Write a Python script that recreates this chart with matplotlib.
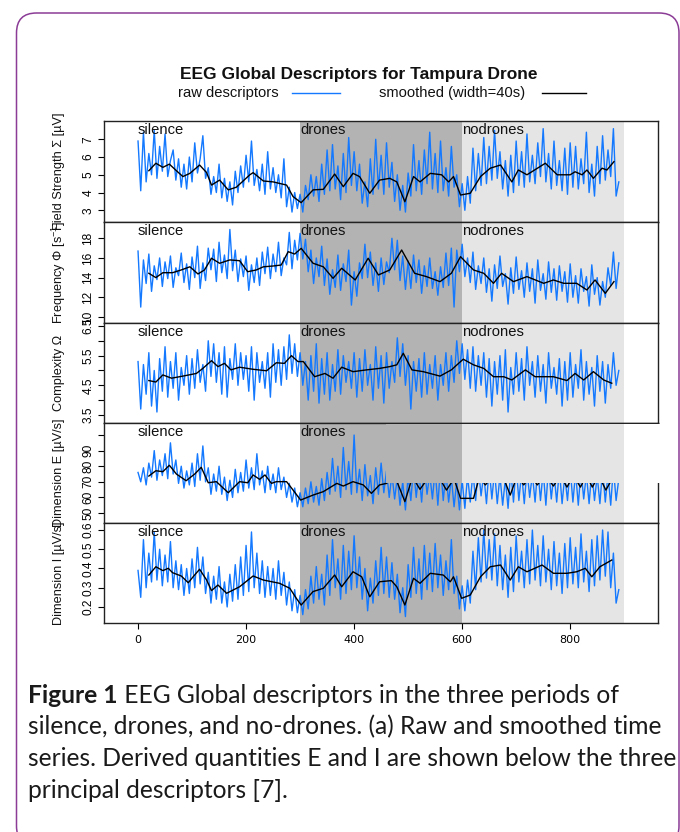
import matplotlib
matplotlib.use('Agg')
import matplotlib.pyplot as plt
from matplotlib.patches import FancyBboxPatch, Rectangle
from matplotlib.lines import Line2D
from matplotlib.transforms import blended_transform_factory, IdentityTransform
from matplotlib import font_manager

# ---------------- data ----------------
time_raw = list(range(0, 895, 5))

field_raw = [
    6.9, 4.1, 7.4, 4.6, 6.2, 5.0, 7.5, 4.8, 6.6, 5.2,
    7.3, 4.9, 5.8, 6.4, 4.7, 5.9, 4.3, 5.6, 4.2, 6.0,
    4.6, 6.8, 5.1, 5.9, 7.2, 4.8, 5.4, 3.9, 4.9, 4.0,
    5.6, 3.7, 4.8, 3.5, 4.6, 3.3, 5.2, 4.0, 5.5, 4.3,
    6.1, 4.6, 6.9, 4.4, 5.3, 4.1, 5.6, 3.9, 6.3, 4.2,
    5.4, 4.0, 5.0, 3.7, 5.9, 3.2, 4.3, 2.9, 4.0, 3.1,
    3.9, 2.9, 4.4, 3.6, 5.0, 3.8, 4.9, 3.5, 5.6, 3.9,
    6.4, 4.1, 6.7, 4.2, 5.5, 3.6, 6.2, 4.0, 7.1, 4.4,
    6.3, 4.1, 5.6, 3.4, 4.6, 3.2, 5.9, 3.9, 7.0, 4.2,
    6.1, 3.9, 6.8, 4.3, 5.7, 3.5, 5.0, 3.0, 4.4, 2.9,
    5.1, 3.8, 6.7, 4.1, 5.8, 3.9, 6.4, 4.5, 7.4, 4.2,
    6.2, 4.0, 6.9, 4.1, 5.4, 3.8, 6.6, 4.3, 5.0, 3.2,
    4.5, 3.0, 4.9, 3.4, 6.5, 4.1, 6.2, 4.4, 7.1, 4.5,
    6.6, 4.7, 7.5, 4.8, 6.3, 4.2, 5.8, 3.8, 6.1, 4.0,
    6.9, 4.4, 6.3, 4.3, 7.3, 4.6, 6.1, 4.5, 6.8, 4.9,
    7.6, 4.6, 6.2, 4.2, 6.9, 4.4, 5.8, 4.1, 6.5, 3.9,
    6.8, 4.3, 6.6, 4.2, 5.9, 4.5, 7.4, 4.0, 5.6, 3.8,
    6.6, 4.5, 7.2, 4.7, 6.4, 4.9, 7.6, 3.8, 4.6]

freq_raw = [
    16.7, 11.0, 15.8, 13.4, 16.4, 12.6, 15.2, 13.8, 16.0, 13.1,
    15.6, 13.9, 16.2, 13.0, 15.0, 14.2, 16.5, 13.5, 15.4, 12.8,
    16.1, 14.0, 17.2, 12.9, 15.5, 13.7, 17.0, 14.8, 16.9, 13.6,
    17.6, 14.5, 16.3, 13.9, 18.9, 14.7, 16.8, 13.6, 15.9, 14.1,
    16.2, 12.7, 15.3, 13.5, 16.0, 13.2, 16.6, 14.4, 17.1, 13.9,
    16.4, 14.6, 17.6, 14.2, 16.0, 15.3, 18.6, 14.9, 17.8, 15.8,
    18.5, 15.9, 17.9, 14.6, 16.8, 13.4, 16.0, 14.1, 17.2, 13.2,
    15.9, 12.3, 14.8, 13.0, 16.3, 12.7, 15.4, 13.6, 16.8, 11.2,
    14.6, 12.1, 15.5, 13.9, 17.4, 14.0, 16.6, 13.2, 15.5, 12.6,
    16.0, 13.3, 15.6, 14.5, 18.0, 14.8, 17.8, 13.7, 16.2, 12.8,
    15.7, 12.9, 16.3, 13.5, 15.8, 12.4, 15.2, 13.1, 16.0, 12.9,
    14.6, 12.2, 15.1, 13.0, 16.5, 13.2, 17.0, 11.0, 16.8, 14.6,
    17.4, 14.1, 16.0, 13.5, 16.6, 12.8, 15.2, 13.4, 16.0, 12.5,
    14.9, 11.6, 15.3, 12.9, 16.2, 13.1, 14.4, 11.3, 15.0, 12.4,
    16.1, 12.8, 14.7, 12.0, 15.5, 12.6, 14.9, 11.4, 15.8, 12.7,
    14.4, 11.8, 15.6, 12.5, 14.9, 11.7, 15.2, 12.6, 14.6, 11.5,
    15.4, 12.0, 14.2, 11.4, 14.9, 12.6, 14.1, 11.1, 15.3, 12.3,
    14.0, 11.2, 13.6, 12.0, 15.0, 13.2, 16.6, 12.9, 15.5]

complexity_raw = [
    5.3, 3.7, 5.2, 4.2, 5.6, 3.8, 5.0, 3.6, 5.4, 4.3,
    5.8, 4.1, 5.3, 4.4, 5.6, 4.0, 5.1, 4.5, 5.5, 4.2,
    5.4, 4.4, 5.7, 4.6, 5.2, 4.3, 6.0, 4.8, 5.9, 4.6,
    5.6, 4.2, 5.8, 4.1, 5.4, 4.7, 5.9, 4.5, 5.6, 4.7,
    5.5, 4.3, 5.8, 4.0, 5.6, 4.6, 5.3, 4.4, 5.6, 4.1,
    5.9, 4.6, 5.7, 4.5, 5.8, 4.7, 6.2, 4.9, 5.9, 4.8,
    5.6, 4.5, 5.3, 4.0, 5.5, 4.3, 5.9, 3.9, 5.4, 4.2,
    5.6, 4.0, 5.2, 4.3, 5.7, 4.2, 5.5, 4.6, 5.3, 4.4,
    5.6, 4.1, 5.4, 4.3, 5.7, 4.5, 5.2, 4.0, 5.8, 4.4,
    5.5, 3.9, 5.6, 4.4, 5.3, 4.6, 6.1, 4.8, 5.9, 4.5,
    5.5, 3.7, 5.3, 4.3, 5.4, 4.1, 5.6, 4.2, 5.2, 4.4,
    5.5, 4.0, 5.2, 4.5, 5.6, 4.3, 5.5, 4.6, 6.0, 4.9,
    5.9, 4.7, 5.7, 4.4, 5.8, 4.3, 5.5, 4.5, 5.6, 4.1,
    5.4, 3.8, 5.3, 4.2, 5.5, 4.0, 5.7, 3.6, 5.1, 4.2,
    5.6, 4.3, 5.4, 4.0, 5.8, 4.5, 5.3, 4.1, 5.5, 4.3,
    5.2, 3.9, 5.6, 4.4, 5.1, 4.2, 5.4, 3.8, 5.3, 4.0,
    5.6, 4.1, 5.2, 4.4, 5.7, 4.0, 5.3, 4.2, 5.1, 3.8,
    5.5, 4.3, 5.3, 3.9, 5.2, 4.4, 5.6, 4.5, 5.0]

dimE_raw = [
    76, 70, 79, 68, 82, 73, 90, 71, 84, 74,
    88, 72, 95, 75, 84, 69, 80, 66, 77, 68,
    82, 67, 88, 71, 93, 70, 79, 62, 75, 64,
    80, 62, 73, 58, 71, 60, 78, 63, 76, 64,
    84, 66, 79, 65, 88, 68, 77, 63, 80, 65,
    75, 63, 79, 65, 73, 60, 69, 57, 66, 54,
    63, 54, 66, 56, 70, 57, 67, 55, 72, 58,
    76, 62, 85, 64, 80, 60, 92, 65, 83, 62,
    100, 63, 78, 58, 81, 61, 74, 56, 79, 62,
    82, 63, 77, 60, 75, 59, 73, 55, 70, 52,
    74, 58, 79, 60, 76, 57, 81, 62, 75, 59,
    78, 55, 80, 58, 76, 57, 73, 54, 70, 52,
    71, 53, 74, 57, 76, 58, 80, 61, 75, 56,
    79, 59, 77, 56, 74, 55, 72, 53, 78, 57,
    80, 58, 76, 56, 78, 60, 75, 57, 79, 58,
    77, 55, 80, 59, 76, 57, 78, 56, 74, 58,
    79, 57, 76, 55, 78, 59, 75, 56, 77, 58,
    74, 56, 78, 57, 75, 55, 79, 58, 72]

dimI_raw = [
    0.39, 0.25, 0.55, 0.30, 0.48, 0.33, 0.59, 0.34, 0.50, 0.31,
    0.47, 0.33, 0.54, 0.30, 0.44, 0.29, 0.42, 0.26, 0.40, 0.27,
    0.45, 0.30, 0.51, 0.32, 0.46, 0.27, 0.38, 0.22, 0.36, 0.24,
    0.41, 0.22, 0.33, 0.20, 0.37, 0.23, 0.42, 0.24, 0.46, 0.26,
    0.52, 0.28, 0.59, 0.30, 0.48, 0.27, 0.44, 0.25, 0.41, 0.26,
    0.40, 0.24, 0.44, 0.26, 0.38, 0.21, 0.33, 0.18, 0.29, 0.17,
    0.26, 0.16, 0.29, 0.19, 0.36, 0.22, 0.41, 0.24, 0.37, 0.21,
    0.47, 0.26, 0.55, 0.30, 0.45, 0.24, 0.52, 0.27, 0.49, 0.29,
    0.57, 0.30, 0.46, 0.24, 0.40, 0.18, 0.35, 0.22, 0.44, 0.26,
    0.51, 0.27, 0.46, 0.25, 0.43, 0.24, 0.37, 0.17, 0.30, 0.15,
    0.42, 0.25, 0.51, 0.27, 0.45, 0.24, 0.52, 0.29, 0.48, 0.28,
    0.53, 0.30, 0.47, 0.26, 0.44, 0.29, 0.55, 0.27, 0.36, 0.19,
    0.31, 0.18, 0.34, 0.22, 0.49, 0.29, 0.56, 0.33, 0.60, 0.35,
    0.55, 0.34, 0.58, 0.31, 0.52, 0.29, 0.47, 0.25, 0.51, 0.28,
    0.57, 0.33, 0.49, 0.30, 0.55, 0.32, 0.60, 0.34, 0.52, 0.31,
    0.57, 0.33, 0.50, 0.29, 0.54, 0.31, 0.48, 0.27, 0.53, 0.30,
    0.56, 0.32, 0.51, 0.30, 0.58, 0.33, 0.49, 0.28, 0.55, 0.31,
    0.57, 0.34, 0.60, 0.36, 0.59, 0.30, 0.48, 0.22, 0.29]

field_smooth_t = [20, 33, 46, 58, 71, 83, 96, 114, 127, 136, 151, 167, 182, 207, 213, 232, 250,
                  275, 287, 302, 324, 343, 364, 380, 398, 410, 429, 447, 466, 479, 494, 510, 522,
                  541, 562, 575, 584, 597, 615, 634, 652, 671, 692, 704, 720, 754, 776, 800, 809,
                  822, 831, 843, 859, 868, 881]
field_smooth = [5.23, 5.65, 5.42, 5.6, 5.23, 4.9, 5.08, 5.55, 5.12, 4.42, 4.7, 4.15, 4.3, 5.0, 5.12,
                4.65, 4.6, 4.42, 3.77, 3.43, 4.15, 4.18, 5.04, 4.33, 5.08, 4.9, 3.96, 4.7, 4.8, 4.6,
                3.48, 4.9, 4.6, 5.08, 5.0, 4.6, 4.9, 3.86, 3.96, 4.9, 5.37, 5.55, 4.6, 5.27, 5.0,
                5.65, 5.0, 5.0, 5.17, 5.0, 5.27, 4.8, 5.37, 5.27, 5.74]

freq_smooth_t = [20, 33, 46, 64, 80, 96, 111, 123, 136, 151, 170, 188, 203, 219, 232, 250, 265,
                 278, 290, 302, 324, 343, 361, 377, 402, 426, 445, 466, 488, 512, 534, 559, 580,
                 597, 621, 640, 658, 673, 695, 720, 751, 769, 788, 812, 831, 846, 865, 881]
freq_smooth = [14.44, 14.0, 14.5, 14.5, 14.78, 15.1, 14.37, 14.78, 15.97, 15.46, 15.8, 15.72, 14.6,
               14.78, 15.1, 15.18, 15.28, 16.64, 16.4, 16.98, 15.46, 15.1, 13.93, 14.95, 13.76,
               15.97, 14.27, 14.78, 16.81, 14.44, 14.1, 13.59, 14.44, 16.13, 14.78, 14.44, 13.42,
               14.44, 13.59, 14.1, 13.42, 13.76, 13.42, 13.42, 12.74, 13.76, 12.4, 13.59]

complexity_smooth_t = [20, 33, 46, 62, 83, 108, 120, 136, 148, 160, 172, 188, 213, 238, 256, 271,
                       284, 296, 306, 327, 346, 361, 377, 398, 423, 447, 466, 479, 491, 507, 528,
                       559, 580, 602, 621, 640, 658, 677, 692, 717, 735, 769, 794, 809, 825, 843,
                       862, 877]
complexity_smooth = [4.66, 4.61, 4.85, 4.74, 4.81, 4.9, 5.07, 5.33, 5.13, 5.24, 5.02, 5.11, 5.04,
                     4.99, 5.26, 5.24, 5.5, 5.3, 5.3, 4.79, 4.9, 4.74, 5.11, 4.96, 5.02, 5.07, 5.13,
                     5.19, 5.58, 5.02, 4.96, 4.81, 5.02, 5.38, 5.19, 5.07, 4.79, 4.79, 4.68, 5.02,
                     4.79, 4.79, 4.66, 4.9, 4.68, 4.96, 4.68, 4.57]

dimE_smooth_t = [20, 33, 46, 58, 71, 89, 105, 117, 130, 145, 167, 188, 203, 213, 225, 235, 247,
                 256, 275, 287, 301, 324, 343, 368, 380, 398, 417, 432, 447, 460, 475, 494, 508,
                 522, 540, 557, 571, 585, 597, 621, 632, 643, 660, 675, 689, 702, 714, 727, 739,
                 754, 769, 782, 794, 806, 819, 830, 841, 853, 866, 878]
dimE_smooth = [73.7, 77.1, 76.5, 80.6, 75.0, 70.7, 75.0, 79.3, 69.4, 70.1, 63.0, 70.1, 69.4, 74.4,
               71.6, 74.4, 69.0, 70.1, 70.1, 64.7, 58.3, 61.5, 63.7, 69.0, 67.3, 70.1, 68.0, 62.6,
               68.0, 69.0, 74.0, 57.3, 73.0, 65.2, 74.0, 73.0, 64.7, 72.0, 59.4, 59.4, 73.0, 68.0,
               75.0, 74.0, 61.5, 74.0, 68.0, 74.0, 68.0, 74.0, 67.3, 74.0, 66.6, 74.0, 66.6, 74.0,
               66.6, 74.0, 64.7, 72.0]

dimI_smooth_t = [20, 33, 46, 56, 64, 80, 93, 102, 114, 127, 136, 148, 164, 188, 213, 232, 262,
                 281, 293, 302, 324, 343, 364, 377, 398, 414, 429, 447, 469, 479, 494, 510, 522,
                 541, 565, 578, 584, 599, 615, 634, 652, 671, 689, 704, 720, 748, 769, 794, 812,
                 828, 840, 855, 877]
dimI_smooth = [0.366, 0.409, 0.389, 0.401, 0.378, 0.361, 0.326, 0.357, 0.396, 0.340, 0.285, 0.314,
               0.271, 0.305, 0.361, 0.340, 0.323, 0.297, 0.245, 0.210, 0.280, 0.297, 0.366, 0.305,
               0.383, 0.357, 0.253, 0.331, 0.337, 0.305, 0.210, 0.349, 0.323, 0.375, 0.366, 0.331,
               0.357, 0.245, 0.262, 0.357, 0.409, 0.418, 0.340, 0.409, 0.383, 0.418, 0.375, 0.375,
               0.383, 0.401, 0.357, 0.409, 0.444]

period_names = ['silence', 'drones', 'nodrones']
period_starts = [0, 300, 600]
period_end = 900

y_labels = ['Field Strength \u03a3 [\u00b5V]', 'Frequency \u03a6 [s$^{-1}$]', 'Complexity \u03a9',
            'Dimension E [\u00b5V/s]', 'Dimension I [\u00b5V/s]']
y_ticks = [[3, 4, 5, 6, 7], [10, 12, 14, 16, 18], [3.5, 4.0, 4.5, 5.0, 5.5, 6.0, 6.5],
           [50, 60, 70, 80, 90, 100], [0.2, 0.3, 0.4, 0.5, 0.6]]
y_tick_labels = [['3', '4', '5', '6', '7'], ['10', '12', '14', '16', '18'],
                 ['3.5', '', '4.5', '', '5.5', '', '6.5'],
                 ['50', '60', '70', '80', '90', ''], ['0.2', '0.3', '0.4', '0.5', '0.6']]
x_ticks = [0, 200, 400, 600, 800]

title = 'EEG Global Descriptors for Tampura Drone'
legend_raw = 'raw descriptors'
legend_smooth = 'smoothed (width=40s)'

caption_bold = 'Figure 1'
caption_lines = [' EEG Global descriptors in the three periods of',
                 'silence, drones, and no-drones. (a) Raw and smoothed time',
                 'series. Derived quantities E and I are shown below the three',
                 'principal descriptors [7].']

raws = [field_raw, freq_raw, complexity_raw, dimE_raw, dimI_raw]
smooth_ts = [field_smooth_t, freq_smooth_t, complexity_smooth_t, dimE_smooth_t, dimI_smooth_t]
smooths = [field_smooth, freq_smooth, complexity_smooth, dimE_smooth, dimI_smooth]

# ---------------- layout / style ----------------
W, H = 680, 832
names = {f.name for f in font_manager.fontManager.ttflist}
SANS = 'Liberation Sans' if 'Liberation Sans' in names else 'DejaVu Sans'
NARROW = 'Liberation Sans Narrow' if 'Liberation Sans Narrow' in names else SANS
CAP = 'Lato' if 'Lato' in names else 'DejaVu Sans'
plt.rcParams['font.family'] = [SANS, 'DejaVu Sans']
plt.rcParams['mathtext.fontset'] = 'custom'
plt.rcParams['mathtext.rm'] = SANS

BLUE = '#1479FF'
DARK = '#B3B3B3'
LIGHT = '#E5E5E5'

fig = plt.figure(figsize=(W / 100, H / 100), dpi=100)


def fx(px):
    return px / W


def fy(py):
    return 1 - py / H


AX_L, AX_R = 104.0, 657.7
bounds = [121.0, 222.0, 322.7, 422.7, 523.3, 623.3]
ylims = [(2.34, 8.03), (9.41, 19.66), (3.24, 6.61), (43.4, 107.9), (0.115, 0.635)]
XLIM = (-63, 962)

axes = []
for i in range(5):
    top, bot = bounds[i], bounds[i + 1]
    ax = fig.add_axes([fx(AX_L), fy(bot), fx(AX_R) - fx(AX_L), (bot - top) / H])
    axes.append(ax)
    ax.set_xlim(*XLIM)
    ax.set_ylim(*ylims[i])
    ax.axvspan(period_starts[1], period_starts[2], color=DARK, lw=0, zorder=0)
    ax.axvspan(period_starts[2], period_end, color=LIGHT, lw=0, zorder=0)
    ax.plot(time_raw, raws[i], color=BLUE, lw=1.0, zorder=2)
    ax.plot(smooth_ts[i], smooths[i], color='black', lw=1.0, zorder=2.2,
            solid_joinstyle='round')
    for sp in ax.spines.values():
        sp.set_linewidth(1.0)
        sp.set_color('#222222')
    ax.set_yticks(y_ticks[i])
    ax.set_yticklabels(y_tick_labels[i], rotation=90, va='center',
                       fontfamily=NARROW, fontsize=8.6)
    ax.tick_params(axis='y', direction='out', length=4.5, width=0.8, pad=2.5)
    if i < 4:
        ax.tick_params(axis='x', bottom=False, labelbottom=False)
    else:
        ax.set_xticks(x_ticks)
        ax.set_xticklabels([str(v) for v in x_ticks], fontsize=8, fontfamily='DejaVu Sans')
        ax.tick_params(axis='x', direction='out', length=4.5, width=0.8, pad=4)
    tr = blended_transform_factory(ax.transData, ax.transAxes)
    for name, st in zip(period_names, period_starts):
        if i == 3 and name == 'nodrones':
            continue
        ax.text(st, 1 - 13.0 / (bot - top), name, transform=tr, ha='left', va='baseline',
                fontsize=10.6, color='#111111', zorder=4)
    ax.text((59 - AX_L) / (AX_R - AX_L), 0.5, y_labels[i], transform=ax.transAxes,
            rotation=90, ha='center', va='center', fontsize=9.2, color='#111111')

# panel 4 artefact: upper right part hidden by background blocks
ax4 = axes[3]
tr4 = blended_transform_factory(ax4.transData, ax4.transAxes)
y0 = (bounds[4] - 483.5) / (bounds[4] - bounds[3])
hgt = 0.99 - y0
for xa, xb, c in [(459, 600, DARK), (600, 900, LIGHT), (900, 975, 'white')]:
    ax4.add_patch(Rectangle((xa, y0), xb - xa, hgt, transform=tr4, facecolor=c,
                            edgecolor='none', zorder=3, clip_on=False))

# title and legend
fig.text(fx(359), fy(78.5), title, ha='center', va='baseline', fontsize=12.5,
         fontweight='bold', color='#111111')
fig.text(fx(178), fy(97.5), legend_raw, ha='left', va='baseline', fontsize=10.6, color='#111111')
fig.text(fx(379), fy(97.5), legend_smooth, ha='left', va='baseline', fontsize=10.6,
         color='#111111')
fig.add_artist(Line2D([fx(292), fx(340)], [fy(93), fy(93)], color=BLUE, lw=1.0,
                      transform=fig.transFigure))
fig.add_artist(Line2D([fx(542), fx(586)], [fy(93), fy(93)], color='black', lw=1.0,
                      transform=fig.transFigure))

# card border
card = FancyBboxPatch((16.5, -14), 662.5, H - 13 + 14, boxstyle='round,pad=0,rounding_size=20',
                      transform=IdentityTransform(), facecolor='none', edgecolor='#8B3C96',
                      lw=1.1)
fig.patches.append(card)

# caption
renderer = fig.canvas.get_renderer()
probe = fig.text(0, 0, caption_lines[2], fontsize=15, fontfamily=CAP)
wpx = probe.get_window_extent(renderer).width
probe.remove()
cap_size = 15 * 650.0 / wpx
CAP_X = 28
base0 = 703.0
step = 31.5
bold = fig.text(fx(CAP_X), fy(base0), caption_bold, fontsize=cap_size, fontfamily=CAP,
                fontweight='bold', ha='left', va='baseline', color='#1a1a1a')
bw = bold.get_window_extent(renderer).width
fig.text(fx(CAP_X + bw), fy(base0), caption_lines[0], fontsize=cap_size, fontfamily=CAP,
         ha='left', va='baseline', color='#1a1a1a')
for k, line in enumerate(caption_lines[1:], start=1):
    fig.text(fx(CAP_X), fy(base0 + k * step), line, fontsize=cap_size, fontfamily=CAP,
             ha='left', va='baseline', color='#1a1a1a')

fig.savefig('out.png', dpi=100)
